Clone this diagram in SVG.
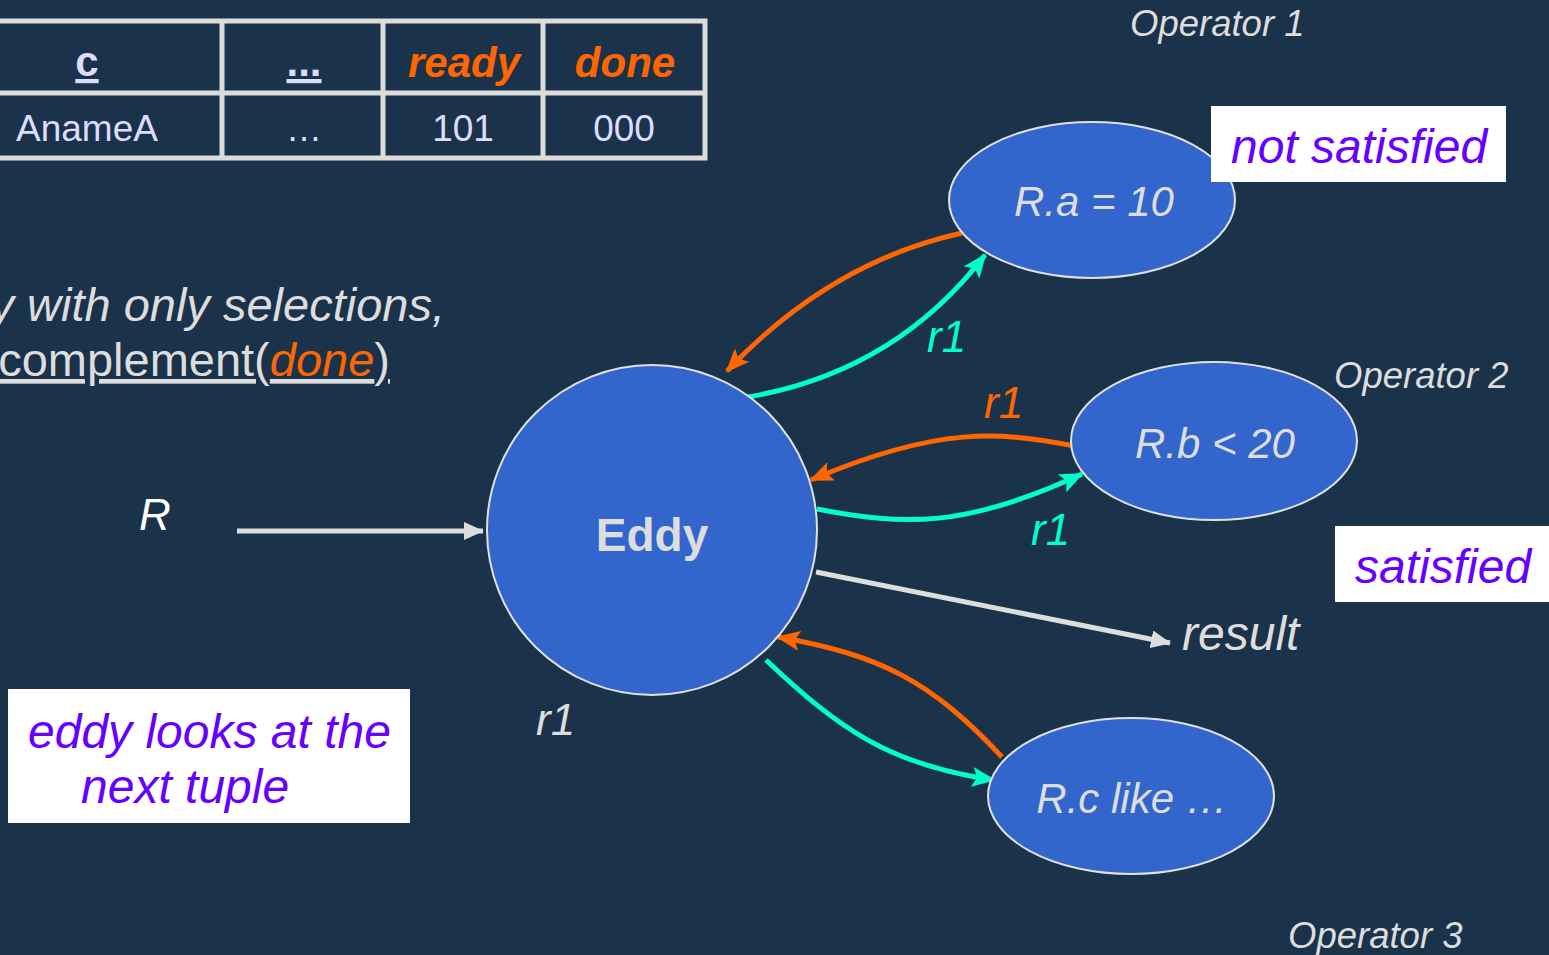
<svg xmlns="http://www.w3.org/2000/svg" width="1549" height="955" viewBox="0 0 1549 955">
<style>
.bg{fill:#1b324b}
.t{font-family:"Liberation Sans",Arial,sans-serif}
.it{font-style:italic}
.gray{fill:#dddddd}
.lav{fill:#dcdcff}
.org{fill:#ff6600}
.cyan{fill:#00ffcc}
.purple{fill:#6600ff}
.node{fill:#3366cc;stroke:#e0e0e0;stroke-width:2}
.grid{stroke:#dcdcdc;stroke-width:5;fill:none}
.cOrg{fill:none;stroke:#ff6600;stroke-width:5}
.cCyan{fill:none;stroke:#00ffcc;stroke-width:5}
.cGray{fill:none;stroke:#dddddd;stroke-width:5}
.box{fill:#ffffff}
</style>
<defs>
<marker id="aOrg" markerUnits="userSpaceOnUse" markerWidth="24" markerHeight="20" refX="22" refY="10" orient="auto"><path d="M0,0 L24,10 L0,20 L5,10 Z" fill="#ff6600"/></marker>
<marker id="aCyan" markerUnits="userSpaceOnUse" markerWidth="24" markerHeight="20" refX="22" refY="10" orient="auto"><path d="M0,0 L24,10 L0,20 L5,10 Z" fill="#00ffcc"/></marker>
<marker id="aGray" markerUnits="userSpaceOnUse" markerWidth="20" markerHeight="18" refX="19" refY="9" orient="auto"><path d="M0,0 L20,9 L0,18 Z" fill="#dddddd"/></marker>
</defs>
<rect class="bg" x="0" y="0" width="1549" height="955"/>

<g id="table">
<rect class="grid" x="-20" y="21" width="725" height="137"/>
<line class="grid" x1="-20" y1="93" x2="705" y2="93"/>
<line class="grid" x1="222" y1="21" x2="222" y2="158"/>
<line class="grid" x1="383" y1="21" x2="383" y2="158"/>
<line class="grid" x1="543" y1="21" x2="543" y2="158"/>
<text class="t lav" x="87" y="76" font-size="42" font-weight="bold" text-anchor="middle" text-decoration="underline">c</text>
<text class="t lav" x="304" y="76" font-size="42" font-weight="bold" text-anchor="middle" text-decoration="underline">...</text>
<text class="t it org" x="464" y="77" font-size="42" font-weight="bold" text-anchor="middle">ready</text>
<text class="t it org" x="625" y="77" font-size="42" font-weight="bold" text-anchor="middle">done</text>
<text class="t lav" x="87" y="141" font-size="37" text-anchor="middle">AnameA</text>
<text class="t lav" x="304" y="141" font-size="36" text-anchor="middle">…</text>
<text class="t lav" x="463" y="141" font-size="37" text-anchor="middle">101</text>
<text class="t lav" x="624" y="141" font-size="37" text-anchor="middle">000</text>
</g>

<g id="caption">
<text class="t it gray" x="445" y="321" font-size="47" text-anchor="end">y with only selections,</text>
<text class="t gray" x="390" y="376" font-size="47" text-anchor="end" text-decoration="underline">complement(<tspan class="org it">done</tspan>)</text>
</g>

<g id="connectors">
<line class="cGray" x1="237" y1="531" x2="483" y2="531" marker-end="url(#aGray)"/>
<path class="cOrg" d="M962,233 Q830,262 727,371" marker-end="url(#aOrg)"/>
<path class="cCyan" d="M748,397 Q895,372 985,255" marker-end="url(#aCyan)"/>
<path class="cOrg" d="M1075,446 C1000,432 940,425 811,480" marker-end="url(#aOrg)"/>
<path class="cCyan" d="M817,509 C905,526 965,528 1082,474" marker-end="url(#aCyan)"/>
<line class="cGray" x1="816" y1="572" x2="1170" y2="643" marker-end="url(#aGray)"/>
<path class="cOrg" d="M1002,757 C930,680 880,655 778,637" marker-end="url(#aOrg)"/>
<path class="cCyan" d="M766,660 C840,730 890,765 994,780" marker-end="url(#aCyan)"/>
</g>

<g id="eddy">
<circle class="node" cx="652" cy="530" r="165"/>
<text class="t gray" x="652" y="551" font-size="46" font-weight="bold" text-anchor="middle">Eddy</text>
</g>

<g id="op1">
<ellipse class="node" cx="1092" cy="200" rx="143" ry="78"/>
<text class="t it gray" x="1094" y="216" font-size="42" text-anchor="middle">R.a = 10</text>
</g>
<g id="op2">
<ellipse class="node" cx="1214" cy="441" rx="143" ry="79"/>
<text class="t it gray" x="1215" y="458" font-size="42" text-anchor="middle">R.b &lt; 20</text>
</g>
<g id="op3">
<ellipse class="node" cx="1131" cy="796" rx="143" ry="78"/>
<text class="t it gray" x="1132" y="813" font-size="42" text-anchor="middle">R.c like …</text>
</g>

<g id="labels">
<text class="t it gray" x="1130" y="36" font-size="36.5">Operator 1</text>
<text class="t it gray" x="1334" y="388" font-size="36.5">Operator 2</text>
<text class="t it gray" x="1288" y="948" font-size="36.5">Operator 3</text>
<text class="t it" fill="#ffffff" x="139" y="530" font-size="44">R</text>
<text class="t it cyan" x="927" y="352" font-size="44">r1</text>
<text class="t it org" x="984" y="418" font-size="44">r1</text>
<text class="t it cyan" x="1031" y="545" font-size="44">r1</text>
<text class="t it gray" x="536" y="735" font-size="44">r1</text>
<text class="t it gray" x="1182" y="650" font-size="48">result</text>
</g>

<g id="not-satisfied">
<rect class="box" x="1211" y="106" width="295" height="76"/>
<text class="t it purple" x="1231" y="163" font-size="48">not satisfied</text>
</g>
<g id="satisfied">
<rect class="box" x="1335" y="526" width="214" height="76"/>
<text class="t it purple" x="1355" y="583" font-size="48">satisfied</text>
</g>
<g id="next-tuple">
<rect class="box" x="8" y="689" width="402" height="134"/>
<text class="t it purple" x="28" y="748" font-size="48">eddy looks at the</text>
<text class="t it purple" x="81" y="803" font-size="48">next tuple</text>
</g>
</svg>
